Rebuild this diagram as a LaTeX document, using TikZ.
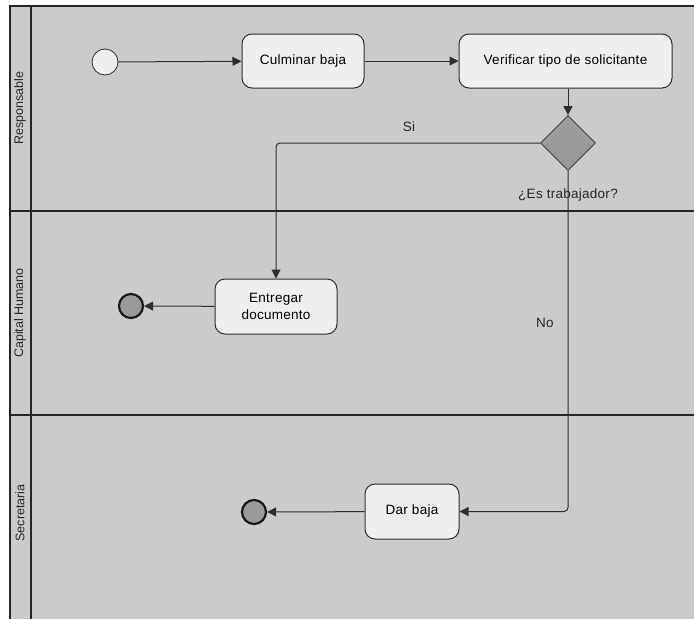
\documentclass[tikz,border=0pt]{standalone}
\usepackage{fontspec}
\setmainfont{Liberation Sans}
\usetikzlibrary{arrows.meta,shapes.geometric}
\definecolor{lanebg}{HTML}{CBCBCB}
\definecolor{boxfill}{HTML}{EFEFEF}
\definecolor{darkline}{HTML}{2E2E2E}
\definecolor{decfill}{HTML}{9A9A9A}
\tikzset{
  actbox/.style={draw=darkline, line width=1pt, fill=boxfill, rounded corners=10pt, align=center, font=\fontsize{13.5}{17}\selectfont\addfontfeatures{LetterSpace=2}, inner sep=0pt},
  startnode/.style={circle, draw=darkline, line width=0.8pt, fill=boxfill, minimum size=26pt, inner sep=0pt},
  endnode/.style={circle, draw=black!90, line width=2.2pt, fill=decfill, minimum size=24pt, inner sep=0pt},
  decnode/.style={diamond, draw=darkline, line width=0.8pt, fill=decfill, minimum width=55pt, minimum height=55pt, inner sep=0pt},
  flow/.style={draw=darkline, line width=1pt, -{Triangle[length=9pt,width=9pt]}, rounded corners=4pt},
  lbl/.style={font=\fontsize{13.5}{16}\selectfont\addfontfeatures{LetterSpace=2}, text=black!85},
  lanelbl/.style={font=\fontsize{12.5}{14}\selectfont, rotate=90, text=black!85},
  border/.style={draw=black!85, line width=1.2pt}
}
\begin{document}
\begin{tikzpicture}[x=1pt,y=-1pt]
\useasboundingbox (0,0) rectangle (694,619);
\fill[white] (0,0) rectangle (694,619);
\fill[lanebg] (10,6) rectangle (694,619);
% borders
\draw[border] (10,619) -- (10,6) -- (694,6);
\draw[border] (31,6) -- (31,619);
\draw[border] (10,211) -- (694,211);
\draw[border] (10,415) -- (694,415);
% lane labels
\node[lanelbl] (l1) at (20,108) {Responsable};
\node[lanelbl] (l2) at (20,313) {Capital Humano};
\node[lanelbl] (l3) at (20,513) {Secretaria};
% nodes
\node[startnode] (start) at (105,62) {};
\node[actbox, minimum width=122pt, minimum height=54pt] (cul) at (303,61) {Culminar baja};
\node[actbox, minimum width=213pt, minimum height=54pt] (ver) at (565.5,61) {Verificar tipo de solicitante};
\node[decnode] (dec) at (568,143) {};
\node[actbox, minimum width=122pt, minimum height=55pt] (ent) at (276,306.5) {Entregar\\documento};
\node[endnode] (end1) at (131,306) {};
\node[actbox, minimum width=94pt, minimum height=55pt] (dar) at (412,511.5) {Dar baja};
\node[endnode] (end2) at (254,512) {};
% labels
\node[lbl] (si) at (409,127) {Si};
\node[lbl] (q) at (568,195) {¿Es trabajador?};
\node[lbl] (no) at (545,323) {No};
% connectors
\draw[flow] (start) -- (cul);
\draw[flow] (cul) -- (ver);
\draw[flow] (ver.south -| dec.north) -- (dec.north);
\draw[flow] (dec.west) -- (ent.north |- dec.west) -- (ent.north);
\draw[flow] (dec.south) -- (dec.south |- dar.east) -- (dar.east);
\draw[flow] (ent) -- (end1);
\draw[flow] (dar) -- (end2);
\end{tikzpicture}
\end{document}
